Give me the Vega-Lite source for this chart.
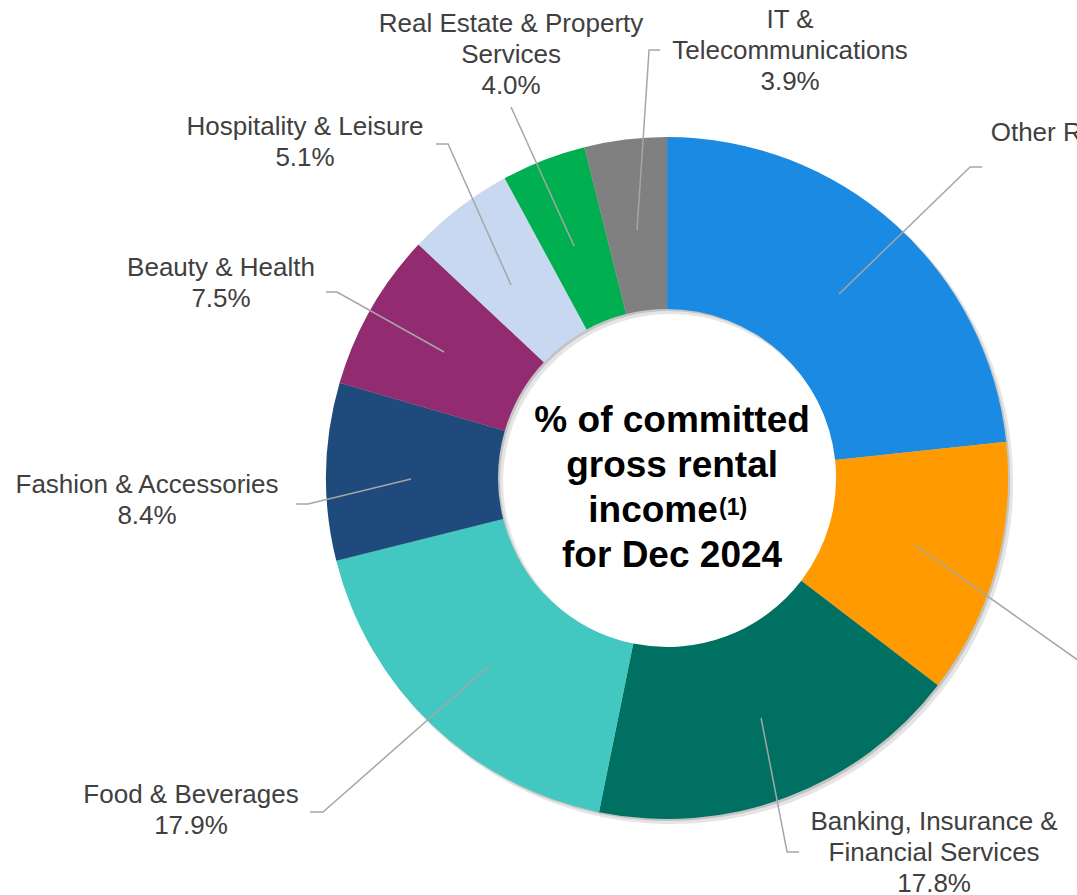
{
  "$schema": "https://vega.github.io/schema/vega-lite/v6.json",
  "width": 1077,
  "height": 895,
  "autosize": {"type": "none"},
  "padding": 0,
  "background": "white",
  "config": {"view": {"stroke": null}},
  "datasets": {
    "slices": [
      {"idx": 1, "category": "Other Retail and Product Trades", "label": "Other Retail and Product Trades", "share": 23.3, "lx": 1.4956, "ly": 1.0117},
      {"idx": 2, "category": "Others", "label": "Others", "share": 12.1, "lx": 1.55, "ly": -0.62},
      {"idx": 3, "category": "Banking, Insurance & Financial Services", "label": "Banking, Insurance &\nFinancial Services", "share": 17.8, "lx": 0.783, "ly": -1.0088},
      {"idx": 4, "category": "Food & Beverages", "label": "Food & Beverages", "share": 17.9, "lx": -1.3959, "ly": -0.9296},
      {"idx": 5, "category": "Fashion & Accessories", "label": "Fashion & Accessories", "share": 8.4, "lx": -1.5249, "ly": -0.0205},
      {"idx": 6, "category": "Beauty & Health", "label": "Beauty & Health", "share": 7.5, "lx": -1.3079, "ly": 0.6158},
      {"idx": 7, "category": "Hospitality & Leisure", "label": "Hospitality & Leisure", "share": 5.1, "lx": -1.0616, "ly": 1.0293},
      {"idx": 8, "category": "Real Estate & Property Services", "label": "Real Estate & Property\nServices", "share": 4.0, "lx": -0.4575, "ly": 1.3314},
      {"idx": 9, "category": "IT & Telecommunications", "label": "IT &\nTelecommunications", "share": 3.9, "lx": 0.3607, "ly": 1.3431}
    ],
    "leaders": [
      {"category": "Other Retail and Product Trades", "seq": 1, "x": 0.5044, "y": 0.5396},
      {"category": "Other Retail and Product Trades", "seq": 2, "x": 0.8886, "y": 0.912},
      {"category": "Other Retail and Product Trades", "seq": 3, "x": 0.9238, "y": 0.912},
      {"category": "Others", "seq": 1, "x": 0.7273, "y": -0.1965},
      {"category": "Others", "seq": 2, "x": 1.3284, "y": -0.6217},
      {"category": "Others", "seq": 3, "x": 1.3724, "y": -0.6217},
      {"category": "Banking, Insurance & Financial Services", "seq": 1, "x": 0.2757, "y": -0.7038},
      {"category": "Banking, Insurance & Financial Services", "seq": 2, "x": 0.3519, "y": -1.0968},
      {"category": "Banking, Insurance & Financial Services", "seq": 3, "x": 0.3871, "y": -1.0968},
      {"category": "Food & Beverages", "seq": 1, "x": -0.5191, "y": -0.5484},
      {"category": "Food & Beverages", "seq": 2, "x": -1.0088, "y": -0.9795},
      {"category": "Food & Beverages", "seq": 3, "x": -1.0469, "y": -0.9795},
      {"category": "Fashion & Accessories", "seq": 1, "x": -0.7507, "y": -0.0029},
      {"category": "Fashion & Accessories", "seq": 2, "x": -1.0528, "y": -0.0762},
      {"category": "Fashion & Accessories", "seq": 3, "x": -1.088, "y": -0.0762},
      {"category": "Beauty & Health", "seq": 1, "x": -0.654, "y": 0.3695},
      {"category": "Beauty & Health", "seq": 2, "x": -0.9677, "y": 0.5455},
      {"category": "Beauty & Health", "seq": 3, "x": -1.0, "y": 0.5455},
      {"category": "Hospitality & Leisure", "seq": 1, "x": -0.4575, "y": 0.566},
      {"category": "Hospitality & Leisure", "seq": 2, "x": -0.6422, "y": 0.9795},
      {"category": "Hospitality & Leisure", "seq": 3, "x": -0.6774, "y": 0.9795},
      {"category": "Real Estate & Property Services", "seq": 1, "x": -0.2727, "y": 0.6804},
      {"category": "Real Estate & Property Services", "seq": 2, "x": -0.4575, "y": 1.088},
      {"category": "IT & Telecommunications", "seq": 1, "x": -0.088, "y": 0.7273},
      {"category": "IT & Telecommunications", "seq": 2, "x": -0.0528, "y": 1.2551},
      {"category": "IT & Telecommunications", "seq": 3, "x": -0.0205, "y": 1.2551}
    ],
    "center": [
      {"t": "% of committed", "kind": "main", "x": 0.0147, "y": 0.1349},
      {"t": "gross rental", "kind": "main", "x": 0.0147, "y": 0.0029},
      {"t": "income", "kind": "main", "x": -0.0411, "y": -0.129},
      {"t": "for Dec 2024", "kind": "main", "x": 0.0147, "y": -0.261},
      {"t": "(1)", "kind": "sup", "x": 0.1935, "y": -0.1085}
    ]
  },
  "layer": [
    {
      "data": {"name": "slices"},
      "mark": {"type": "arc", "outerRadius": 342, "innerRadius": 168, "color": "#000000", "opacity": 0.1, "stroke": null},
      "encoding": {
        "theta": {"field": "share", "type": "quantitative", "stack": true},
        "order": {"field": "idx", "type": "quantitative"},
        "x": {"datum": 0.012, "type": "quantitative", "scale": {"domain": [-1.956, 1.202], "nice": false, "zero": false}, "axis": null},
        "y": {"datum": -0.012, "type": "quantitative", "scale": {"domain": [-1.2229, 1.4018], "nice": false, "zero": false}, "axis": null}
      }
    },
    {
      "data": {"name": "slices"},
      "mark": {"type": "arc", "outerRadius": 341, "innerRadius": 169, "color": "#000000", "opacity": 0.14, "stroke": null},
      "encoding": {
        "theta": {"field": "share", "type": "quantitative", "stack": true},
        "order": {"field": "idx", "type": "quantitative"},
        "x": {"datum": 0.006, "type": "quantitative", "axis": null},
        "y": {"datum": -0.006, "type": "quantitative", "axis": null}
      }
    },
    {
      "data": {"name": "slices"},
      "mark": {"type": "arc", "outerRadius": 341, "innerRadius": 169, "stroke": null},
      "encoding": {
        "theta": {"field": "share", "type": "quantitative", "stack": true},
        "order": {"field": "idx", "type": "quantitative"},
        "color": {
          "field": "category", "type": "nominal", "legend": null,
          "scale": {
            "domain": ["Other Retail and Product Trades", "Others", "Banking, Insurance & Financial Services", "Food & Beverages", "Fashion & Accessories", "Beauty & Health", "Hospitality & Leisure", "Real Estate & Property Services", "IT & Telecommunications"],
            "range": ["#1a8ae2", "#ff9a00", "#007062", "#42c8c0", "#1f4a7c", "#922b70", "#c7d8f0", "#00b050", "#808080"]
          }
        },
        "x": {"datum": 0, "type": "quantitative", "axis": null},
        "y": {"datum": 0, "type": "quantitative", "axis": null}
      }
    },
    {
      "data": {"name": "leaders"},
      "mark": {"type": "line", "color": "#a6a6a6", "strokeWidth": 1.5, "clip": true},
      "encoding": {
        "x": {"field": "x", "type": "quantitative", "axis": null},
        "y": {"field": "y", "type": "quantitative", "axis": null},
        "detail": {"field": "category", "type": "nominal"},
        "order": {"field": "seq", "type": "quantitative"}
      }
    },
    {
      "data": {"name": "slices"},
      "transform": [
        {"calculate": "datum.label + '\\n' + format(datum.share, '.1f') + '%'", "as": "txt"}
      ],
      "mark": {"type": "text", "lineBreak": "\n", "font": "Liberation Sans", "fontSize": 26, "lineHeight": 31, "color": "#404040", "align": "center", "baseline": "middle", "clip": true},
      "encoding": {
        "x": {"field": "lx", "type": "quantitative", "axis": null},
        "y": {"field": "ly", "type": "quantitative", "axis": null},
        "text": {"field": "txt", "type": "nominal"}
      }
    },
    {
      "data": {"name": "center"},
      "transform": [{"filter": "datum.kind === 'main'"}],
      "mark": {"type": "text", "font": "Liberation Sans", "fontSize": 37, "fontWeight": "bold", "color": "#000000", "align": "center", "baseline": "alphabetic"},
      "encoding": {
        "x": {"field": "x", "type": "quantitative", "axis": null},
        "y": {"field": "y", "type": "quantitative", "axis": null},
        "text": {"field": "t", "type": "nominal"}
      }
    },
    {
      "data": {"name": "center"},
      "transform": [{"filter": "datum.kind === 'sup'"}],
      "mark": {"type": "text", "font": "Liberation Sans", "fontSize": 23, "fontWeight": "bold", "color": "#000000", "align": "center", "baseline": "alphabetic"},
      "encoding": {
        "x": {"field": "x", "type": "quantitative", "axis": null},
        "y": {"field": "y", "type": "quantitative", "axis": null},
        "text": {"field": "t", "type": "nominal"}
      }
    }
  ]
}
